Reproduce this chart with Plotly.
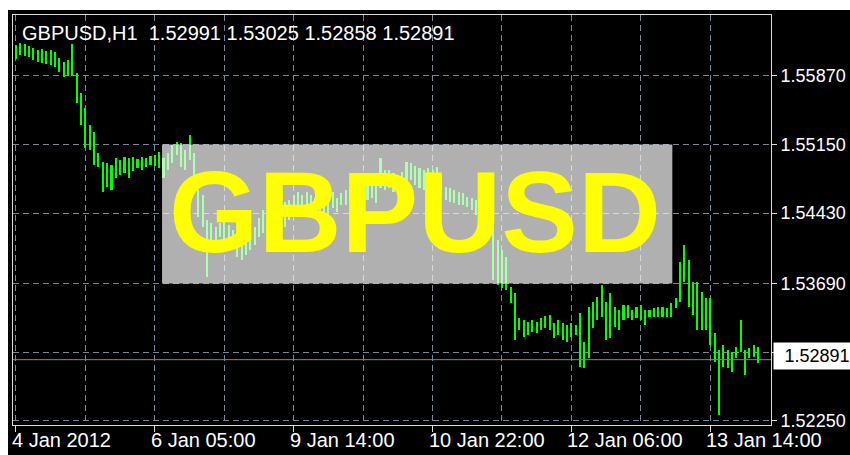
import plotly.graph_objects as go

# ---------------- data ----------------
symbol = "GBPUSD"
timeframe = "H1"
last_open = 1.52991
last_close = 1.52891

highs = [
    1.56195, 1.56216, 1.56205, 1.56184, 1.56163, 1.56142, 1.56153, 1.56132, 1.56142, 1.56121,
    1.56058, 1.56016, 1.56037, 1.56205, 1.55901, 1.55691, 1.55533, 1.55355, 1.55281, 1.55061,
    1.54966, 1.54956, 1.54935, 1.55008, 1.54987, 1.55019, 1.55008, 1.55019, 1.54998, 1.55019,
    1.55008, 1.55029, 1.55040, 1.55071, 1.55008, 1.55061, 1.55145, 1.55176, 1.55166, 1.55092,
    1.55250, 1.55061, 1.54672, 1.54620, 1.54357, 1.54326, 1.54284, 1.54326, 1.54336, 1.54305,
    1.54252, 1.54147, 1.54116, 1.54179, 1.54252, 1.54284, 1.54378, 1.54462, 1.54462, 1.54515,
    1.54494, 1.54515, 1.54546, 1.54567, 1.54620, 1.54651, 1.54620, 1.54651, 1.54620, 1.54588,
    1.54567, 1.54536, 1.54567, 1.54651, 1.54588, 1.54641, 1.54672, 1.54693, 1.54725, 1.54725,
    1.54756, 1.54746, 1.54777, 1.54746, 1.55008, 1.54882, 1.54882, 1.54851, 1.54819, 1.54861,
    1.54966, 1.54956, 1.54924, 1.54903, 1.54882, 1.54903, 1.54882, 1.54914, 1.54830, 1.54704,
    1.54693, 1.54672, 1.54651, 1.54641, 1.54599, 1.54588, 1.54567, 1.54567, 1.54536, 1.54515,
    1.54410, 1.54147, 1.54042, 1.53969, 1.53654, 1.53591, 1.53328, 1.53307, 1.53286, 1.53307,
    1.53286, 1.53328, 1.53349, 1.53360, 1.53276, 1.53307, 1.53276, 1.53255, 1.53276, 1.53255,
    1.53381, 1.53076, 1.53444, 1.53496, 1.53549, 1.53675, 1.53496, 1.53591, 1.53444, 1.53412,
    1.53465, 1.53465, 1.53412, 1.53444, 1.53465, 1.53412, 1.53412, 1.53433, 1.53444, 1.53444,
    1.53433, 1.53486, 1.53538, 1.53916, 1.54095, 1.53937, 1.53706, 1.53706, 1.53601, 1.53538,
    1.53538, 1.53171, 1.52992, 1.53045, 1.52992, 1.52971, 1.53024, 1.53307, 1.52992, 1.53013,
    1.53045, 1.53025,
]

lows = [
    1.56048, 1.56090, 1.56079, 1.56069, 1.56037, 1.56016, 1.56006, 1.55995, 1.55985, 1.55964,
    1.55911, 1.55859, 1.55869, 1.55869, 1.55586, 1.55355, 1.55113, 1.55092, 1.54935, 1.54914,
    1.54651, 1.54704, 1.54672, 1.54798, 1.54830, 1.54851, 1.54798, 1.54872, 1.54903, 1.54882,
    1.54914, 1.54935, 1.54924, 1.54903, 1.54798, 1.54882, 1.54956, 1.55040, 1.54914, 1.54882,
    1.54987, 1.54809, 1.54389, 1.54284, 1.53759, 1.54147, 1.54147, 1.54179, 1.54126, 1.54095,
    1.54063, 1.53969, 1.53937, 1.53990, 1.54042, 1.54095, 1.54179, 1.54221, 1.54252, 1.54273,
    1.54305, 1.54305, 1.54284, 1.54357, 1.54389, 1.54441, 1.54410, 1.54462, 1.54441, 1.54410,
    1.54389, 1.54410, 1.54431, 1.54483, 1.54441, 1.54515, 1.54515, 1.54536, 1.54567, 1.54567,
    1.54588, 1.54567, 1.54588, 1.54536, 1.54693, 1.54672, 1.54693, 1.54651, 1.54620, 1.54672,
    1.54672, 1.54777, 1.54725, 1.54693, 1.54672, 1.54746, 1.54693, 1.54746, 1.54599, 1.54567,
    1.54546, 1.54536, 1.54515, 1.54515, 1.54494, 1.54462, 1.54410, 1.54378, 1.54305, 1.54200,
    1.53727, 1.53675, 1.53643, 1.53622, 1.53486, 1.53097, 1.53202, 1.53129, 1.53150, 1.53181,
    1.53171, 1.53202, 1.53223, 1.53202, 1.53118, 1.53150, 1.53097, 1.53076, 1.53129, 1.53150,
    1.52814, 1.52803, 1.52908, 1.53223, 1.53307, 1.53339, 1.53097, 1.53118, 1.53234, 1.53202,
    1.53307, 1.53328, 1.53307, 1.53328, 1.53307, 1.53255, 1.53339, 1.53339, 1.53339, 1.53339,
    1.53339, 1.53339, 1.53433, 1.53496, 1.53706, 1.53444, 1.53360, 1.53202, 1.53202, 1.53202,
    1.53045, 1.52866, 1.52310, 1.52814, 1.52803, 1.52761, 1.52908, 1.52971, 1.52730, 1.52908,
    1.52919, 1.52858,
]

x_tick_pos = [0, 32, 64, 96, 128, 160]
x_tick_text = ["4 Jan 2012", "6 Jan 05:00", "9 Jan 14:00",
               "10 Jan 22:00", "12 Jan 06:00", "13 Jan 14:00"]
x_grid_minor = [16, 48, 80, 112, 144]

y_tick_vals = [1.5225, 1.5297, 1.5369, 1.5443, 1.5515, 1.5587]
y_tick_text = ["1.52250", "1.52970", "1.53690", "1.54430", "1.55150", "1.55870"]

# ---------------- style ----------------
FONT = "Liberation Sans, Arial, sans-serif"
FS = 20
FS_Y = 18
GRID = "#778899"
FRAME = "#dcdcdc"
BAR = "#00ff00"
W, H = 850, 455
ML, MR, MT, MB = 13, 79, 15, 30
PW, PH = W - ML - MR, H - MT - MB

idx = list(range(len(highs)))
X_RANGE = [-0.69, 174.0]
Y_RANGE = [1.52205, 1.56510]

fig = go.Figure()
fig.add_trace(go.Bar(
    x=idx,
    y=[h - l for h, l in zip(highs, lows)],
    base=lows,
    width=0.48,
    marker=dict(color=BAR, line=dict(width=0)),
    hoverinfo="skip",
    showlegend=False,
))

fig.update_layout(
    width=W, height=H, autosize=False,
    margin=dict(l=ML, r=MR, t=MT, b=MB, pad=0, autoexpand=False),
    paper_bgcolor="white",
    plot_bgcolor="black",
    bargap=0,
    showlegend=False,
    font=dict(family=FONT, size=FS, color="white"),
)

fig.update_xaxes(
    range=X_RANGE,
    automargin=False,
    tickvals=x_tick_pos,
    showticklabels=False,
    ticks="outside", ticklen=6, tickcolor=FRAME, tickwidth=1,
    showgrid=True, gridcolor=GRID, gridwidth=1, griddash="6px,4px",
    minor=dict(tickvals=x_grid_minor, showgrid=True, gridcolor=GRID,
               gridwidth=1, griddash="6px,4px", ticks=""),
    showline=True, linecolor=FRAME, linewidth=1, mirror=True,
    zeroline=False, fixedrange=True,
)

fig.update_yaxes(
    range=Y_RANGE,
    automargin=False,
    side="right",
    tickvals=y_tick_vals,
    ticktext=y_tick_text,
    ticks="outside", ticklen=5, tickcolor=FRAME, tickwidth=1,
    ticklabelstandoff=0,
    tickfont=dict(family=FONT, size=FS_Y, color="white"),
    showgrid=True, gridcolor=GRID, gridwidth=1, griddash="6px,4px",
    showline=True, linecolor=FRAME, linewidth=1, mirror=True,
    zeroline=False, fixedrange=True,
)

# black chart window on a white page (white strips at top and left)
fig.add_shape(type="rect", xref="paper", yref="paper",
              x0=-5 / PW, x1=1.2, y0=-0.2, y1=1 + 5 / PH,
              fillcolor="black", line=dict(width=0), layer="below")

# current price line
fig.add_shape(type="line", xref="paper", yref="y",
              x0=0, x1=1, y0=last_close, y1=last_close,
              line=dict(color=GRID, width=1), layer="above")

# semi-transparent label background (rectangle object)
fig.add_shape(type="rect", xref="x", yref="y",
              x0=33.66, x1=151.26, y0=1.5369, y1=1.5515,
              fillcolor="white", opacity=0.69, line=dict(width=0), layer="above")

# big label
fig.add_annotation(x=(33.66 + 151.26) / 2, y=1.5443, xref="x", yref="y",
                   text="<b>%s</b>" % symbol, showarrow=False,
                   xanchor="center", yanchor="middle", xshift=-2, yshift=1,
                   font=dict(family=FONT, size=115, color="#ffff00"))

# x-axis labels (left-aligned at their ticks, like the terminal)
for pos, txt in zip(x_tick_pos, x_tick_text):
    fig.add_annotation(x=pos, y=-15 / PH, xref="x", yref="paper",
                       text=txt, showarrow=False, xanchor="left", yanchor="middle",
                       xshift=-6, font=dict(family=FONT, size=FS, color="white"))

# header line
header = "%s,%s\u00a0\u00a0%.5f %.5f %.5f %.5f" % (
    symbol, timeframe, last_open, highs[-1], lows[-1], last_close)
fig.add_annotation(x=7 / PW, y=(425 - 33) / PH, xref="paper", yref="paper",
                   text=header, showarrow=False, xanchor="left", yanchor="middle",
                   font=dict(family=FONT, size=FS, color="white"))

# current price box on the price scale
fig.add_annotation(x=1, y=last_close, xref="paper", yref="y",
                   text="%.5f" % last_close, showarrow=False,
                   xanchor="left", yanchor="middle", xshift=2, yshift=4,
                   width=86, height=26, align="center",
                   bgcolor="white", borderpad=0,
                   font=dict(family=FONT, size=FS_Y, color="black"))

post = (
    "document.body.style.margin='0';"
    "document.body.style.overflow='hidden';"
)

fig.write_html("out.html",
               config={"responsive": False, "displayModeBar": False, "staticPlot": True},
               post_script=post)
